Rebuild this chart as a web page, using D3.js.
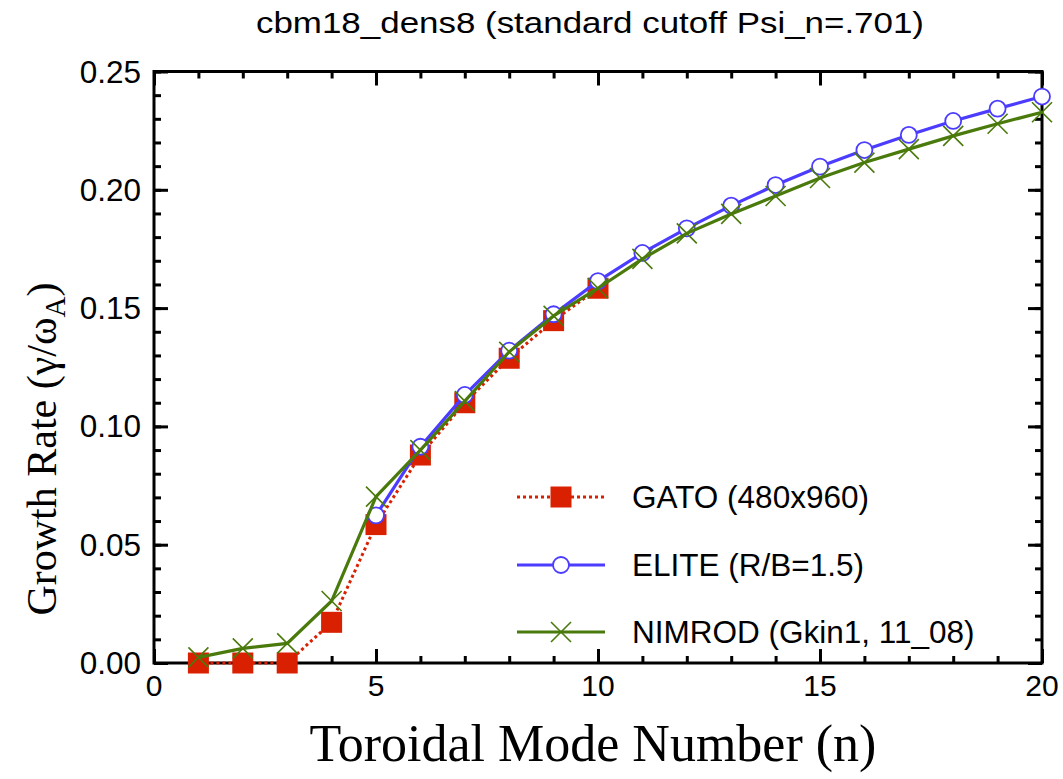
<!DOCTYPE html>
<html>
<head>
<meta charset="utf-8">
<script src="https://cdn.jsdelivr.net/npm/d3@7"></script>
<style>
  html, body { margin: 0; padding: 0; background: #fff; }
  svg { display: block; }
</style>
</head>
<body>
<svg id="chart" width="1063" height="779"></svg>
<script>
// ---- data ----
const titleText = "cbm18_dens8 (standard cutoff Psi_n=.701)";
const xLabelText = "Toroidal Mode Number (n)";
const xTicks = [0, 5, 10, 15, 20];
const yTicks = [0.00, 0.05, 0.10, 0.15, 0.20, 0.25];
const yTickLabels = ["0.00", "0.05", "0.10", "0.15", "0.20", "0.25"];

const gatoN = [1, 2, 3, 4, 5, 6, 7, 8, 9, 10];
const gatoG = [0, 0, 0, 0.0172, 0.0585, 0.0879, 0.1100, 0.1288, 0.1447, 0.1584];

const eliteN = [5, 6, 7, 8, 9, 10, 11, 12, 13, 14, 15, 16, 17, 18, 19, 20];
const eliteG = [0.0624, 0.0914, 0.1133, 0.1320, 0.1474, 0.1614, 0.1733, 0.1837, 0.1933, 0.2020, 0.2098, 0.2168, 0.2232, 0.2291, 0.2343, 0.2394];

const nimN = [1, 2, 3, 4, 5, 6, 7, 8, 9, 10, 11, 12, 13, 14, 15, 16, 17, 18, 19, 20];
const nimG = [0.0024, 0.0062, 0.0083, 0.0262, 0.0703, 0.0900, 0.1107, 0.1315, 0.1467, 0.1584, 0.1708, 0.1816, 0.1898, 0.1974, 0.2050, 0.2115, 0.2172, 0.2228, 0.2279, 0.2328];

const legendLabels = ["GATO (480x960)", "ELITE (R/B=1.5)", "NIMROD (Gkin1, 11_08)"];

// ---- layout ----
const svg = d3.select("#chart");
const L = 154, R = 1042, T = 71.5, B = 663;
const x = d3.scaleLinear().domain([0, 20]).range([L, R]);
const y = d3.scaleLinear().domain([0, 0.25]).range([B, T]);

const RED = "#d92000", BLUE = "#4b3cff", GREEN = "#4a7a0c";
const sans = "'Liberation Sans', Arial, Helvetica, sans-serif";
const serif = "'Liberation Serif', 'Times New Roman', serif";

// title
svg.append("text")
  .attr("x", 590).attr("y", 33)
  .attr("text-anchor", "middle")
  .attr("font-family", sans).attr("font-size", 29)
  .attr("textLength", 668).attr("lengthAdjust", "spacingAndGlyphs")
  .text(titleText);

// axes
function styleAxis(g) {
  g.select(".domain").remove();
  g.selectAll(".tick line").attr("stroke", "#000").attr("stroke-width", 3);
  g.selectAll("text").remove();
}
const xMinor = d3.range(0, 21, 1);
const yMinor = d3.range(0, 0.2501, 0.01);

svg.append("g").attr("transform", `translate(0,${B})`)
  .call(d3.axisBottom(x).tickValues(xMinor).tickSize(-7)).call(styleAxis);
svg.append("g").attr("transform", `translate(0,${B})`)
  .call(d3.axisBottom(x).tickValues(xTicks).tickSize(-14)).call(styleAxis);
svg.append("g").attr("transform", `translate(0,${T})`)
  .call(d3.axisTop(x).tickValues(xMinor).tickSize(-7)).call(styleAxis);
svg.append("g").attr("transform", `translate(0,${T})`)
  .call(d3.axisTop(x).tickValues(xTicks).tickSize(-14)).call(styleAxis);
svg.append("g").attr("transform", `translate(${L},0)`)
  .call(d3.axisLeft(y).tickValues(yMinor).tickSize(-7)).call(styleAxis);
svg.append("g").attr("transform", `translate(${L},0)`)
  .call(d3.axisLeft(y).tickValues(yTicks).tickSize(-14)).call(styleAxis);
svg.append("g").attr("transform", `translate(${R},0)`)
  .call(d3.axisRight(y).tickValues(yMinor).tickSize(-7)).call(styleAxis);
svg.append("g").attr("transform", `translate(${R},0)`)
  .call(d3.axisRight(y).tickValues(yTicks).tickSize(-14)).call(styleAxis);

// frame
svg.append("rect")
  .attr("x", L).attr("y", T).attr("width", R - L).attr("height", B - T)
  .attr("fill", "none").attr("stroke", "#000").attr("stroke-width", 3);

// tick labels
svg.append("g").selectAll("text").data(xTicks).join("text")
  .attr("x", d => x(d)).attr("y", 696)
  .attr("text-anchor", "middle")
  .attr("font-family", sans).attr("font-size", 30)
  .text(d => d);
svg.append("g").selectAll("text").data(yTicks).join("text")
  .attr("x", 141).attr("y", d => y(d) + 11)
  .attr("text-anchor", "end")
  .attr("font-family", sans).attr("font-size", 31.5)
  .text((d, i) => yTickLabels[i]);

// axis titles
svg.append("text")
  .attr("x", 593).attr("y", 761)
  .attr("text-anchor", "middle")
  .attr("font-family", serif).attr("font-size", 52)
  .text(xLabelText);

const yl = svg.append("text")
  .attr("transform", "translate(56,449) rotate(-90)")
  .attr("text-anchor", "middle")
  .attr("font-family", serif).attr("font-size", 42);
yl.append("tspan").text("Growth Rate (γ/ω");
yl.append("tspan").attr("font-size", 29).attr("dy", 9).text("A");
yl.append("tspan").attr("dy", -9).text(")");

// ---- series ----
const line = d3.line().x(d => x(d[0])).y(d => y(d[1]));
const gato = gatoN.map((n, i) => [n, gatoG[i]]);
const elite = eliteN.map((n, i) => [n, eliteG[i]]);
const nim = nimN.map((n, i) => [n, nimG[i]]);

const SQ = 21, CR = 8, XS = 10;

// GATO
svg.append("path").datum(gato).attr("d", line)
  .attr("fill", "none").attr("stroke", RED).attr("stroke-width", 3)
  .attr("stroke-dasharray", "3,3");
svg.append("g").selectAll("rect").data(gato).join("rect")
  .attr("x", d => x(d[0]) - SQ / 2).attr("y", d => y(d[1]) - SQ / 2)
  .attr("width", SQ).attr("height", SQ).attr("fill", RED);

// ELITE
svg.append("path").datum(elite).attr("d", line)
  .attr("fill", "none").attr("stroke", BLUE).attr("stroke-width", 3.2);
svg.append("g").selectAll("circle").data(elite).join("circle")
  .attr("cx", d => x(d[0])).attr("cy", d => y(d[1])).attr("r", CR)
  .attr("fill", "#fff").attr("stroke", BLUE).attr("stroke-width", 1.8);

// NIMROD
svg.append("path").datum(nim).attr("d", line)
  .attr("fill", "none").attr("stroke", GREEN).attr("stroke-width", 3.2);
const crossPath = d => {
  const cx = x(d[0]), cy = y(d[1]);
  return `M${cx - XS},${cy - XS}L${cx + XS},${cy + XS}M${cx - XS},${cy + XS}L${cx + XS},${cy - XS}`;
};
svg.append("g").selectAll("path").data(nim).join("path")
  .attr("d", crossPath).attr("stroke", GREEN).attr("stroke-width", 1.6).attr("fill", "none");

// ---- legend ----
const lx0 = 517, lx1 = 605, lmx = 561, ltx = 632;
const rows = [497, 565, 632];
const lg = svg.append("g");
// GATO row
lg.append("line").attr("x1", lx0).attr("x2", lx1).attr("y1", rows[0]).attr("y2", rows[0])
  .attr("stroke", RED).attr("stroke-width", 3).attr("stroke-dasharray", "3,3");
lg.append("rect").attr("x", lmx - SQ / 2).attr("y", rows[0] - SQ / 2)
  .attr("width", SQ).attr("height", SQ).attr("fill", RED);
// ELITE row
lg.append("line").attr("x1", lx0).attr("x2", lx1).attr("y1", rows[1]).attr("y2", rows[1])
  .attr("stroke", BLUE).attr("stroke-width", 3.2);
lg.append("circle").attr("cx", lmx).attr("cy", rows[1]).attr("r", CR)
  .attr("fill", "#fff").attr("stroke", BLUE).attr("stroke-width", 1.8);
// NIMROD row
lg.append("line").attr("x1", lx0).attr("x2", lx1).attr("y1", rows[2]).attr("y2", rows[2])
  .attr("stroke", GREEN).attr("stroke-width", 3.2);
lg.append("path").attr("d", crossPath([x.invert(lmx), y.invert(rows[2])]))
  .attr("stroke", GREEN).attr("stroke-width", 1.6).attr("fill", "none");

lg.selectAll("text.lab").data(legendLabels).join("text")
  .attr("class", "lab")
  .attr("x", ltx).attr("y", (d, i) => rows[i] + 11)
  .attr("font-family", sans).attr("font-size", 31.5)
  .text(d => d);
</script>
</body>
</html>
